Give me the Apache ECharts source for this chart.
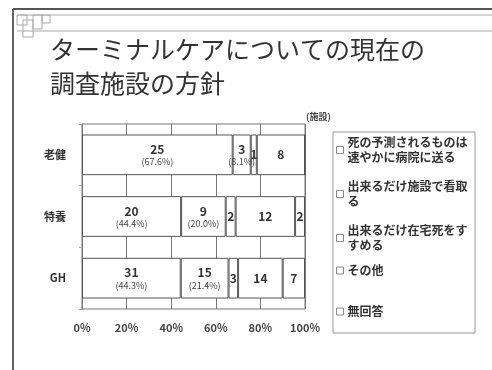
<!DOCTYPE html>
<html><head><meta charset="utf-8">
<script src="https://cdn.jsdelivr.net/npm/echarts@6/dist/echarts.min.js"></script>
<style>html,body{margin:0;padding:0;background:#fff}#c{width:492px;height:370px}</style>
</head><body><div id="c"></div>
<script>
const categories = ['老健', '特養', 'GH'];
const seriesNames = ['死の予測されるものは\n速やかに病院に送る', '出来るだけ施設で看取\nる', '出来るだけ在宅死をす\nすめる', 'その他', '無回答'];
const counts = [
  [25, 20, 31],
  [3, 9, 15],
  [1, 2, 3],
  [8, 12, 14],
  [0, 2, 7]
];
const xTicks = ['0%', '20%', '40%', '60%', '80%', '100%'];
const legendTops = [135, 179, 223, 263, 304];

const totals = categories.map((_, i) => counts.reduce((s, arr) => s + arr[i], 0));
const font = '"Noto Sans CJK JP", sans-serif';

const series = seriesNames.map((name, si) => ({
  name: name,
  type: 'bar',
  stack: 'all',
  barWidth: '66%',
  itemStyle: { color: '#fff', borderColor: '#555', borderWidth: 1 },
  label: {
    show: true,
    position: 'inside',
    fontFamily: font,
    color: '#333',
    formatter: p => {
      const v = counts[si][p.dataIndex];
      if (!v) return '';
      if (si < 2) {
        return '{n|' + v + '}\n{p|(' + (v / totals[p.dataIndex] * 100).toFixed(1) + '%)}';
      }
      return '{n|' + v + '}';
    },
    rich: {
      n: { fontSize: 12, fontWeight: 'bold', color: '#333', fontFamily: font, lineHeight: 14 },
      p: { fontSize: 9, color: '#444', fontFamily: font, lineHeight: 11 }
    }
  },
  data: counts[si].map((v, i) => v / totals[i] * 100)
}));

const legends = seriesNames.map((name, i) => ({
  data: [name],
  left: 336,
  top: legendTops[i],
  orient: 'vertical',
  icon: 'rect',
  itemWidth: 7,
  itemHeight: 7,
  itemGap: 4,
  padding: 0,
  selectedMode: false,
  itemStyle: { color: '#fff', borderColor: '#888', borderWidth: 1 },
  textStyle: { fontFamily: font, fontSize: 12, color: '#333', fontWeight: 'bold', lineHeight: 15, padding: [0, 0, 0, -1] }
}));

const chart = echarts.init(document.getElementById('c'));
chart.setOption({
  animation: false,
  backgroundColor: '#fff',
  grid: { left: 82, right: 187, top: 124, bottom: 61, show: true, borderColor: '#777', borderWidth: 1 },
  xAxis: {
    type: 'value', min: 0, max: 100, interval: 20,
    axisLine: { show: false }, axisTick: { show: false },
    splitLine: { lineStyle: { color: '#777', width: 1 } },
    axisLabel: { fontFamily: font, fontSize: 11, color: '#444', fontWeight: 'bold', margin: 13,
      formatter: v => xTicks[Math.round(v / 20)] }
  },
  yAxis: {
    type: 'category', data: categories, inverse: true,
    axisLine: { show: true, lineStyle: { color: '#777' } },
    axisTick: { show: true, length: 3, lineStyle: { color: '#aaa' } },
    axisLabel: { fontFamily: font, fontSize: 11, color: '#333', fontWeight: 'bold', margin: 16 }
  },
  legend: legends,
  series: series,
  graphic: [
    { type: 'line', shape: { x1: 13, y1: 9, x2: 492, y2: 9 }, style: { stroke: '#555', lineWidth: 2 } },
    { type: 'line', shape: { x1: 17, y1: 15, x2: 492, y2: 15 }, style: { stroke: '#aaa', lineWidth: 1 } },
    { type: 'line', shape: { x1: 17, y1: 31, x2: 492, y2: 31 }, style: { stroke: '#aaa', lineWidth: 1 } },
    { type: 'line', shape: { x1: 13, y1: 9, x2: 13, y2: 370 }, style: { stroke: '#666', lineWidth: 2 } },
    { type: 'rect', shape: { x: 17, y: 15, width: 10, height: 10 }, style: { fill: 'none', stroke: '#aaa', lineWidth: 1 } },
    { type: 'rect', shape: { x: 23, y: 20, width: 10, height: 17 }, style: { fill: 'none', stroke: '#aaa', lineWidth: 1 } },
    { type: 'rect', shape: { x: 33, y: 15, width: 9, height: 14 }, style: { fill: 'none', stroke: '#aaa', lineWidth: 1 } },
    { type: 'rect', shape: { x: 42, y: 15, width: 8, height: 8 }, style: { fill: 'none', stroke: '#aaa', lineWidth: 1 } },
    { type: 'text', left: 50, top: 37, style: { text: 'ターミナルケアについての現在の', font: '25px ' + font, fill: '#333' } },
    { type: 'text', left: 50, top: 71, style: { text: '調査施設の方針', font: '25px ' + font, fill: '#333' } },
    { type: 'text', left: 306, top: 112, style: { text: '(施設)', font: 'bold 9px ' + font, fill: '#444' } },
    { type: 'rect', shape: { x: 333, y: 132, width: 142, height: 201 }, style: { fill: 'none', stroke: '#999', lineWidth: 1 } }
  ]
});
</script>
</body></html>
